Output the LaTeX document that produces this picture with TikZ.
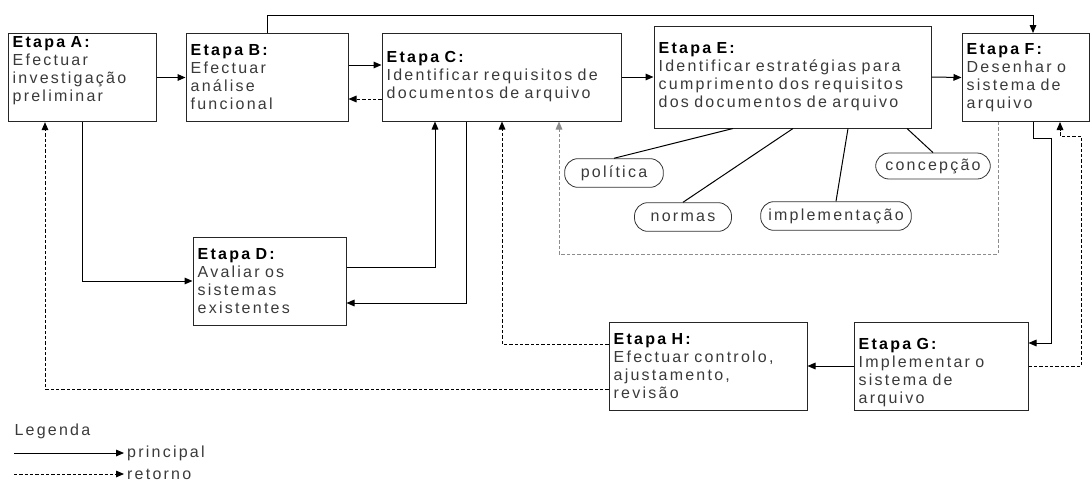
\documentclass[tikz,border=0pt]{standalone}
\usepackage{fontspec}
\setmainfont{Liberation Sans}[LetterSpace=14]
\usetikzlibrary{arrows.meta}
\definecolor{txtgray}{HTML}{3A3A3A}
\definecolor{loopgray}{HTML}{8C8C8C}
\newcommand{\etp}[1]{\textbf{\color{black}Etapa #1:}}
\newcommand{\fnt}{\fontsize{12}{13.5}\selectfont\spaceskip=5.5pt plus 1pt}

\tikzset{
  etapa/.style={draw=black!85, line width=0.75pt, align=left, text width=#1,
    inner xsep=3.5pt, inner ysep=2pt, minimum height=66pt, text=txtgray, font=\fnt},
  pill/.style={draw=black!80, line width=0.6pt, rounded corners=10pt,
    minimum height=21.5pt, minimum width=#1, inner xsep=2pt, text=txtgray, font=\fnt},
  legtext/.style={text=txtgray, font=\fnt, inner sep=0pt},
  ret/.style={dash pattern=on 2.5pt off 1.5pt},
}

\begin{document}
\begin{tikzpicture}[x=0.75pt, y=-0.75pt, line width=0.75pt, >={Triangle[length=6pt,width=5pt]}]
\useasboundingbox (0,0) rectangle (1092,482);
\node[etapa=104pt] (A) at (82,77.5) {\etp{A}\\Efectuar\\investigação\\preliminar\\ \mbox{}};
\node[etapa=114.5pt] (B) at (267,77.5) {\etp{B}\\Efectuar\\análise\\funcional};
\node[etapa=172.25pt] (C) at (501.5,77) {\etp{C}\\Identificar requisitos de\\documentos de arquivo};
\node[etapa=200.75pt, minimum height=76.5pt] (E) at (792.5,77) {\etp{E}\\Identificar estratégias para\\cumprimento dos requisitos\\dos documentos de arquivo};
\node[etapa=88.25pt] (F) at (1025.5,77.5) {\etp{F}\\Desenhar o\\sistema de\\arquivo};
\node[etapa=107.75pt] (D) at (269.5,281) {\etp{D}\\Avaliar os\\sistemas\\existentes};
\node[etapa=141.5pt] (H) at (708,366) {\etp{H}\\Efectuar controlo,\\ajustamento,\\revisão};
\node[etapa=123.5pt, inner ysep=0pt] (G) at (941,366) {\mbox{}\\[5pt] \etp{G}\\Implementar o\\sistema de\\arquivo};

\node[pill=74pt] (pol) at (614,173) {política};
\node[pill=72.75pt] (nor) at (683,217) {normas};
\node[pill=113pt] (imp) at (836,216) {implementação};
\node[pill=86pt, minimum height=19.5pt] (con) at (933,166) {concepção};
\foreach \x/\p in {733/pol,793/nor,848/imp,907/con}
	\draw (E.south -| \x,0) -- (\p.north);

\draw [->] (A.east) -- (B.west);
\draw [->] (B.east |- 0,65) -- (C.west |- 0,65);
\draw [->, ret] (C.west |- 0,99) -- (B.east |- 0,99);
\draw [->] (C.east) -- (E.west);
\draw [->] (E.east) -- (F.west);
\draw [->] (B.north) |- (1033,15) -- (F.north -| 1033,0);
\draw [->] (A.south) |- (D.west);
\draw [->] (D.east |- 0,267) -| (C.south -| 435,0);
\draw [->] (C.south -| 466,0) |- (D.east |- 0,303);
\draw [->, ret] (H.west |- 0,344) -| (C.south -| 502,0);
\draw [->, ret] (H.west |- 0,389) -| (A.south -| 45,0);
\draw [->, ret, loopgray] (F.south -| 998,0) |- (559,254) -- (C.south -| 559,0);
\draw [->] (F.south -| 1033,0) |- (1051,138) |- (G.east |- 0,343);
\draw [->, ret] (G.east) -| (1081,136) -| (F.south -| 1060,0);
\draw [->] (G.west) -- (H.east);

\node[legtext, anchor=west] (leg) at (14,431) {Legenda};
\coordinate (ps) at (14,453);
\coordinate (rs) at (14,474);
\node[legtext, anchor=west, inner xsep=2pt] (pl) at (124,453) {principal};
\node[legtext, anchor=west, inner xsep=2pt] (rl) at (124,474) {retorno};
\draw [->] (ps) -- (pl.west);
\draw [->, ret] (rs) -- (rl.west);
\end{tikzpicture}
\end{document}
